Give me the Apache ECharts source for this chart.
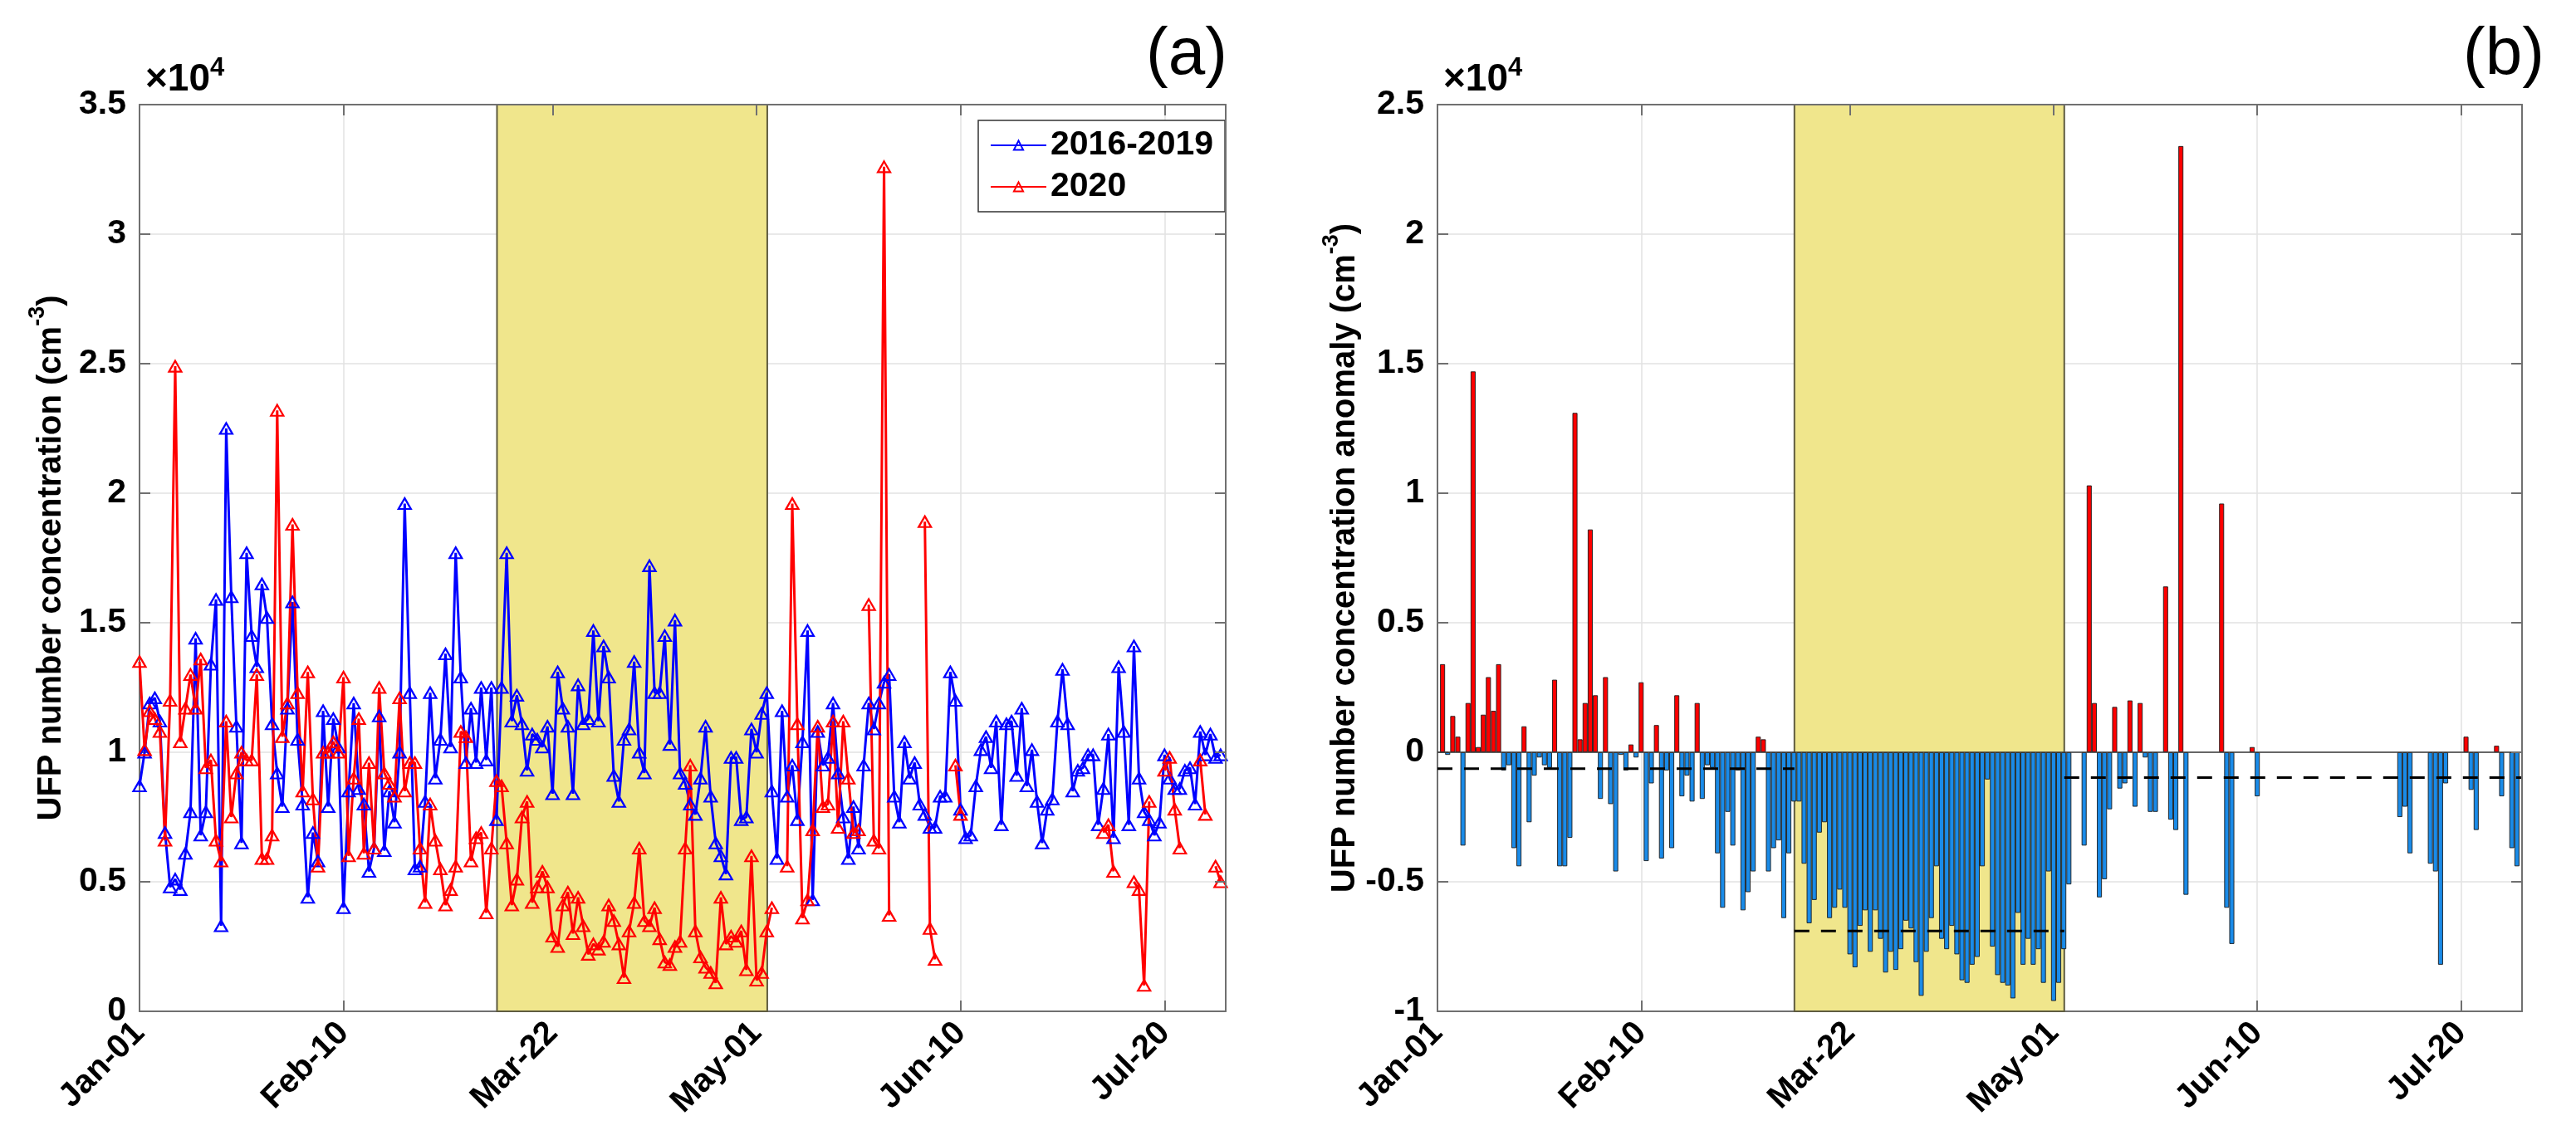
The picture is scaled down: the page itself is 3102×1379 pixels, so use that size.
<!DOCTYPE html>
<html><head><meta charset="utf-8">
<script src="https://cdn.jsdelivr.net/npm/echarts@6/dist/echarts.min.js"></script>
<style>html,body{margin:0;padding:0;background:#fff}#c{width:3102px;height:1379px}</style>
</head><body><div id="c"></div>
<script>
// ---------- data (x = day index from Jan-01-2020) ----------
const tickDays = [0, 40, 81, 121, 161, 201];
const tickLabels = ['Jan-01', 'Feb-10', 'Mar-22', 'May-01', 'Jun-10', 'Jul-20'];
const lockdownStart = 70.1;
const lockdownEnd = 123.1;
const xMax = 213;

// UFP number concentration (cm^-3), daily, 2016-2019 average
const blue20162019 = [
 8700,10000,11900,12100,11200,6900,4800,5100,4700,6100,
 7700,14400,6800,7700,13400,15900,3300,22500,16000,11000,
 6500,17700,14500,13300,16500,15200,11100,9200,7900,11700,
 15800,10500,8000,4400,6900,5800,11600,7900,11300,10200,
 4000,8500,11900,8600,8000,5400,6300,11400,6200,8500,
 7300,10000,19600,12300,5500,5600,8100,12300,9000,10500,
 13800,10200,17700,12900,9600,11700,9600,12500,9700,12500,
 7400,12500,17700,11200,12200,11100,9300,10700,10500,10200,
 11000,8400,13100,11700,11000,8400,12600,11100,11300,14700,
 11200,14100,12900,9100,8100,10500,10900,13500,10000,9200,
 17200,12300,12300,14500,10300,15100,9200,8800,8000,7600,
 9000,11000,8300,6500,6000,5300,9800,9800,7400,7500,
 10900,10000,11500,12300,8500,5900,11600,8300,9500,7400,
 10400,14700,4300,10800,9500,9800,11900,9200,7500,5900,
 7900,6300,9500,11900,10900,11900,12700,13000,8300,7300,
 10400,9000,9600,8000,7600,7100,7100,8300,8300,13100,
 12000,7800,6700,6800,8700,10100,10600,9400,11200,7200,
 11100,11200,9100,11700,8700,10100,8100,6500,7800,8200,
 11200,13200,11100,8500,9300,9400,9900,9900,7200,8600,
 10700,6700,13300,10800,7200,14100,9000,7700,7400,6800,
 7300,9900,9000,8600,8600,9300,9400,8000,10800,9900,
 10700,9800,9900
];

// UFP number concentration (cm^-3), daily, 2020
const red2020 = [
 13500,10100,11600,11300,10800,6600,12000,24900,10400,11700,
 13000,11700,13600,9400,9700,6600,5800,11200,7500,9200,
 10000,9700,9700,13000,5900,5900,6800,23200,10600,11900,
 18800,12300,8500,13100,8200,5600,10000,10000,10400,10000,
 12900,6000,9000,11300,6100,9600,6300,12500,9200,8800,
 8300,12100,8500,9600,9600,6300,4200,8000,6600,5500,
 4100,4700,5600,10800,10600,5800,6700,6900,3800,6300,
 8900,8700,6500,4100,5100,7500,8100,4200,4800,5400,
 4800,2900,2500,4100,4600,3000,4400,3300,2200,2600,
 2400,2700,4100,3500,2600,1300,3100,4200,6300,3500,
 3300,4000,2800,1900,1800,2500,2700,6300,9500,3100,
 2100,1700,1500,1100,4400,2600,2900,2700,3100,1600,
 6000,1200,1500,3100,4000,null,null,5600,19600,11100,
 3600,4300,7000,11000,7900,8000,11200,7100,11200,9000,
 6900,7000,null,15700,6600,6300,32600,3700,null,null,
 null,null,null,null,18900,3200,2000,null,null,null,
 9500,7600,null,null,null,null,null,null,null,null,
 null,null,null,null,null,null,null,null,null,null,
 null,null,null,null,null,null,null,null,null,6900,
 7200,5400,null,null,null,5000,4700,1000,8100,null,
 null,9300,9800,7800,6300,null,null,null,9700,7600,
 null,5600,5000
];

// UFP number concentration anomaly 2020 (cm^-3), daily
const anomaly2020 = [
 null,3400,-100,1400,600,-3600,1900,14700,200,1450,
 2900,1600,3400,-700,-500,-3700,-4400,1000,-2700,-900,
 -200,-500,-600,2800,-4400,-4400,-3300,13100,500,1900,
 8600,2200,-1800,2900,-2000,-4600,-100,-700,300,-200,
 2700,-4200,-1200,1050,-4100,-700,-3700,2200,-1700,-900,
 -1900,1900,-1800,-500,-600,-3900,-6000,-2300,-3600,-700,
 -6100,-5400,-4600,600,500,-4600,-3700,-3400,-6400,-3900,
 -1900,-1900,-4300,-6600,-5700,-3100,-2700,-6400,-6000,-5300,
 -6000,-7800,-8300,-6700,-6100,-7700,-6100,-7200,-8500,-7700,
 -8400,-7600,-6500,-6800,-8100,-9400,-7700,-6400,-4400,-7200,
 -7600,-6700,-7800,-8800,-8900,-8200,-7900,-4400,-1050,-7500,
 -8600,-8900,-9000,-9500,-6200,-8200,-7200,-8200,-7600,-8900,
 -4600,-9600,-8900,-7600,-5100,null,null,-3600,10300,1900,
 -5600,-4900,-2200,1750,-1400,-1200,2000,-2100,1900,-200,
 -2300,-2300,null,6400,-2600,-3000,23400,-5500,null,null,
 null,null,null,null,9600,-6000,-7400,null,null,null,
 200,-1700,null,null,null,null,null,null,null,null,
 null,null,null,null,null,null,null,null,null,null,
 null,null,null,null,null,null,null,null,null,-2500,
 -2100,-3900,null,null,null,-4300,-4600,-8200,-1200,null,
 null,null,600,-1450,-3000,null,null,null,250,-1700,
 null,-3700,-4400
];

// period-mean anomaly (dashed lines)
const periodStart = [0, 70.1, 123.1];
const periodEnd = [70.1, 123.1, 213];
const periodMean = [-630, -6900, -980];

// ---------- chart ----------
const FONT = '"Liberation Sans", Arial, Helvetica, sans-serif';
const AXC = '#707070';
const GRIDC = '#e2e2e2';
const toPairs = arr => arr.map((v, i) => [i, v === null ? '-' : v]);

function bottomX(gi) {
  return {
    type: 'value', gridIndex: gi, min: 0, max: xMax, position: 'bottom', z: 0,
    axisLine: { show: true, onZero: false, lineStyle: { color: AXC, width: 2 } },
    axisTick: { show: true, inside: true, length: 13, customValues: tickDays, lineStyle: { color: AXC, width: 2 } },
    axisLabel: {
      show: true, customValues: tickDays, rotate: 45, margin: 20,
      formatter: v => { const k = tickDays.indexOf(Math.round(v)); return k >= 0 ? tickLabels[k] : ''; },
      fontSize: 40, fontWeight: 'bold', color: '#000', fontFamily: FONT
    },
    splitLine: { show: true, lineStyle: { color: GRIDC, width: 1.5 } }
  };
}
function topX(gi) {
  return {
    type: 'value', gridIndex: gi, min: 0, max: xMax, position: 'top', z: 6,
    axisLine: { show: true, onZero: false, lineStyle: { color: AXC, width: 2 } },
    axisTick: { show: true, inside: true, length: 13, customValues: tickDays, lineStyle: { color: AXC, width: 2 } },
    axisLabel: { show: false }, splitLine: { show: false }
  };
}
function leftY(gi, mn, mx, name, gap) {
  return {
    type: 'value', gridIndex: gi, min: mn, max: mx, interval: 5000, position: 'left', z: 0,
    axisLine: { show: true, onZero: false, lineStyle: { color: AXC, width: 2 } },
    axisTick: { show: true, inside: true, length: 13, lineStyle: { color: AXC, width: 2 } },
    axisLabel: { formatter: v => String(v / 10000), fontSize: 41, fontWeight: 'bold', color: '#000', fontFamily: FONT, margin: 16 },
    splitLine: { show: true, lineStyle: { color: GRIDC, width: 1.5 } },
    name: '{n|' + name + ' (cm}{s|-3}{n|)}', nameLocation: 'middle', nameRotate: 90, nameGap: gap,
    nameTextStyle: {
      rich: {
        n: { fontSize: 40, fontWeight: 'bold', fontFamily: FONT, color: '#000', lineHeight: 50, verticalAlign: 'bottom' },
        s: { fontSize: 27, fontWeight: 'bold', fontFamily: FONT, color: '#000', lineHeight: 28, verticalAlign: 'top' }
      }
    }
  };
}
function rightY(gi, mn, mx) {
  return {
    type: 'value', gridIndex: gi, min: mn, max: mx, interval: 5000, position: 'right', z: 6,
    axisLine: { show: true, onZero: false, lineStyle: { color: AXC, width: 2 } },
    axisTick: { show: true, inside: true, length: 13, lineStyle: { color: AXC, width: 2 } },
    axisLabel: { show: false }, splitLine: { show: false }
  };
}
function shade(xi, yi) {
  return {
    type: 'line', xAxisIndex: xi, yAxisIndex: yi, data: [], z: 1, silent: true,
    markArea: {
      silent: true,
      itemStyle: { color: '#f0e68c', borderColor: '#5f5c40', borderWidth: 2 },
      data: [[{ xAxis: lockdownStart }, { xAxis: lockdownEnd }]]
    }
  };
}
function lineSeries(name, color, arr) {
  return {
    name: name, type: 'line', xAxisIndex: 0, yAxisIndex: 0, z: 3,
    data: toPairs(arr), color: color,
    symbol: 'triangle', symbolSize: [15, 13], showAllSymbol: true, connectNulls: false,
    lineStyle: { color: color, width: 3 },
    itemStyle: { color: 'rgba(255,255,255,0)', borderColor: color, borderWidth: 2.2 },
    emphasis: { disabled: true }
  };
}

const series = [
  shade(0, 0),
  lineSeries('2016-2019', '#0000ff', blue20162019),
  lineSeries('2020', '#ff0000', red2020),
  shade(2, 2),
  {
    name: 'anomaly', type: 'bar', xAxisIndex: 2, yAxisIndex: 2, z: 3, barWidth: 6,
    data: toPairs(anomaly2020),
    itemStyle: {
      color: p => (p.value[1] >= 0 ? '#ff0000' : '#1a8be8'),
      borderColor: '#1a1a1a', borderWidth: 0.9
    },
    emphasis: { disabled: true },
    markLine: {
      silent: true, symbol: 'none', label: { show: false },
      lineStyle: { color: '#3a3a3a', width: 1.5, type: 'solid' },
      data: [{ yAxis: 0 }]
    }
  }
];
periodMean.forEach((m, k) => {
  series.push({
    type: 'line', xAxisIndex: 2, yAxisIndex: 2, z: 5, symbol: 'none', silent: true,
    data: [[periodStart[k], m], [periodEnd[k], m]],
    lineStyle: { color: '#000', width: 3, type: [18, 14] }
  });
});

const supRich = {
  a: { fontSize: 46, fontFamily: FONT, color: '#000', lineHeight: 52, verticalAlign: 'bottom' },
  s: { fontSize: 31, fontFamily: FONT, color: '#000', lineHeight: 30, verticalAlign: 'top' }
};

const option = {
  animation: false,
  backgroundColor: '#fff',
  grid: [
    { left: 168, top: 126, width: 1308, height: 1092, outerBoundsMode: 'none', containLabel: false },
    { left: 1731, top: 126, width: 1306, height: 1092, outerBoundsMode: 'none', containLabel: false }
  ],
  title: [
    { text: '{a|×10}{s|4}', left: 170, top: 62, textStyle: { rich: supRich } },
    { text: '{a|×10}{s|4}', left: 1733, top: 62, textStyle: { rich: supRich } },
    { text: '(a)', left: 1375, top: 22, textStyle: { fontSize: 80, fontWeight: 'normal', fontFamily: FONT, color: '#000' } },
    { text: '(b)', left: 2961, top: 22, textStyle: { fontSize: 80, fontWeight: 'normal', fontFamily: FONT, color: '#000' } }
  ],
  legend: {
    data: ['2016-2019', '2020'], orient: 'vertical', left: 1178, top: 145,
    padding: [8, 14, 8, 14], itemGap: 6, itemWidth: 67, itemHeight: 14,
    backgroundColor: '#fff', borderColor: '#333', borderWidth: 1.5, borderRadius: 0,
    textStyle: { fontSize: 41, fontWeight: 'bold', color: '#000', fontFamily: FONT, lineHeight: 44 }
  },
  xAxis: [bottomX(0), topX(0), bottomX(1), topX(1)],
  yAxis: [
    leftY(0, 0, 35000, 'UFP number concentration', 86),
    rightY(0, 0, 35000),
    leftY(1, -10000, 25000, 'UFP number concentration anomaly', 71),
    rightY(1, -10000, 25000)
  ],
  series: series
};
option.yAxis[1].gridIndex = 0;
option.yAxis[3].gridIndex = 1;
const chart = echarts.init(document.getElementById('c'), null, { renderer: 'canvas' });
chart.setOption(option);
</script>
</body></html>
